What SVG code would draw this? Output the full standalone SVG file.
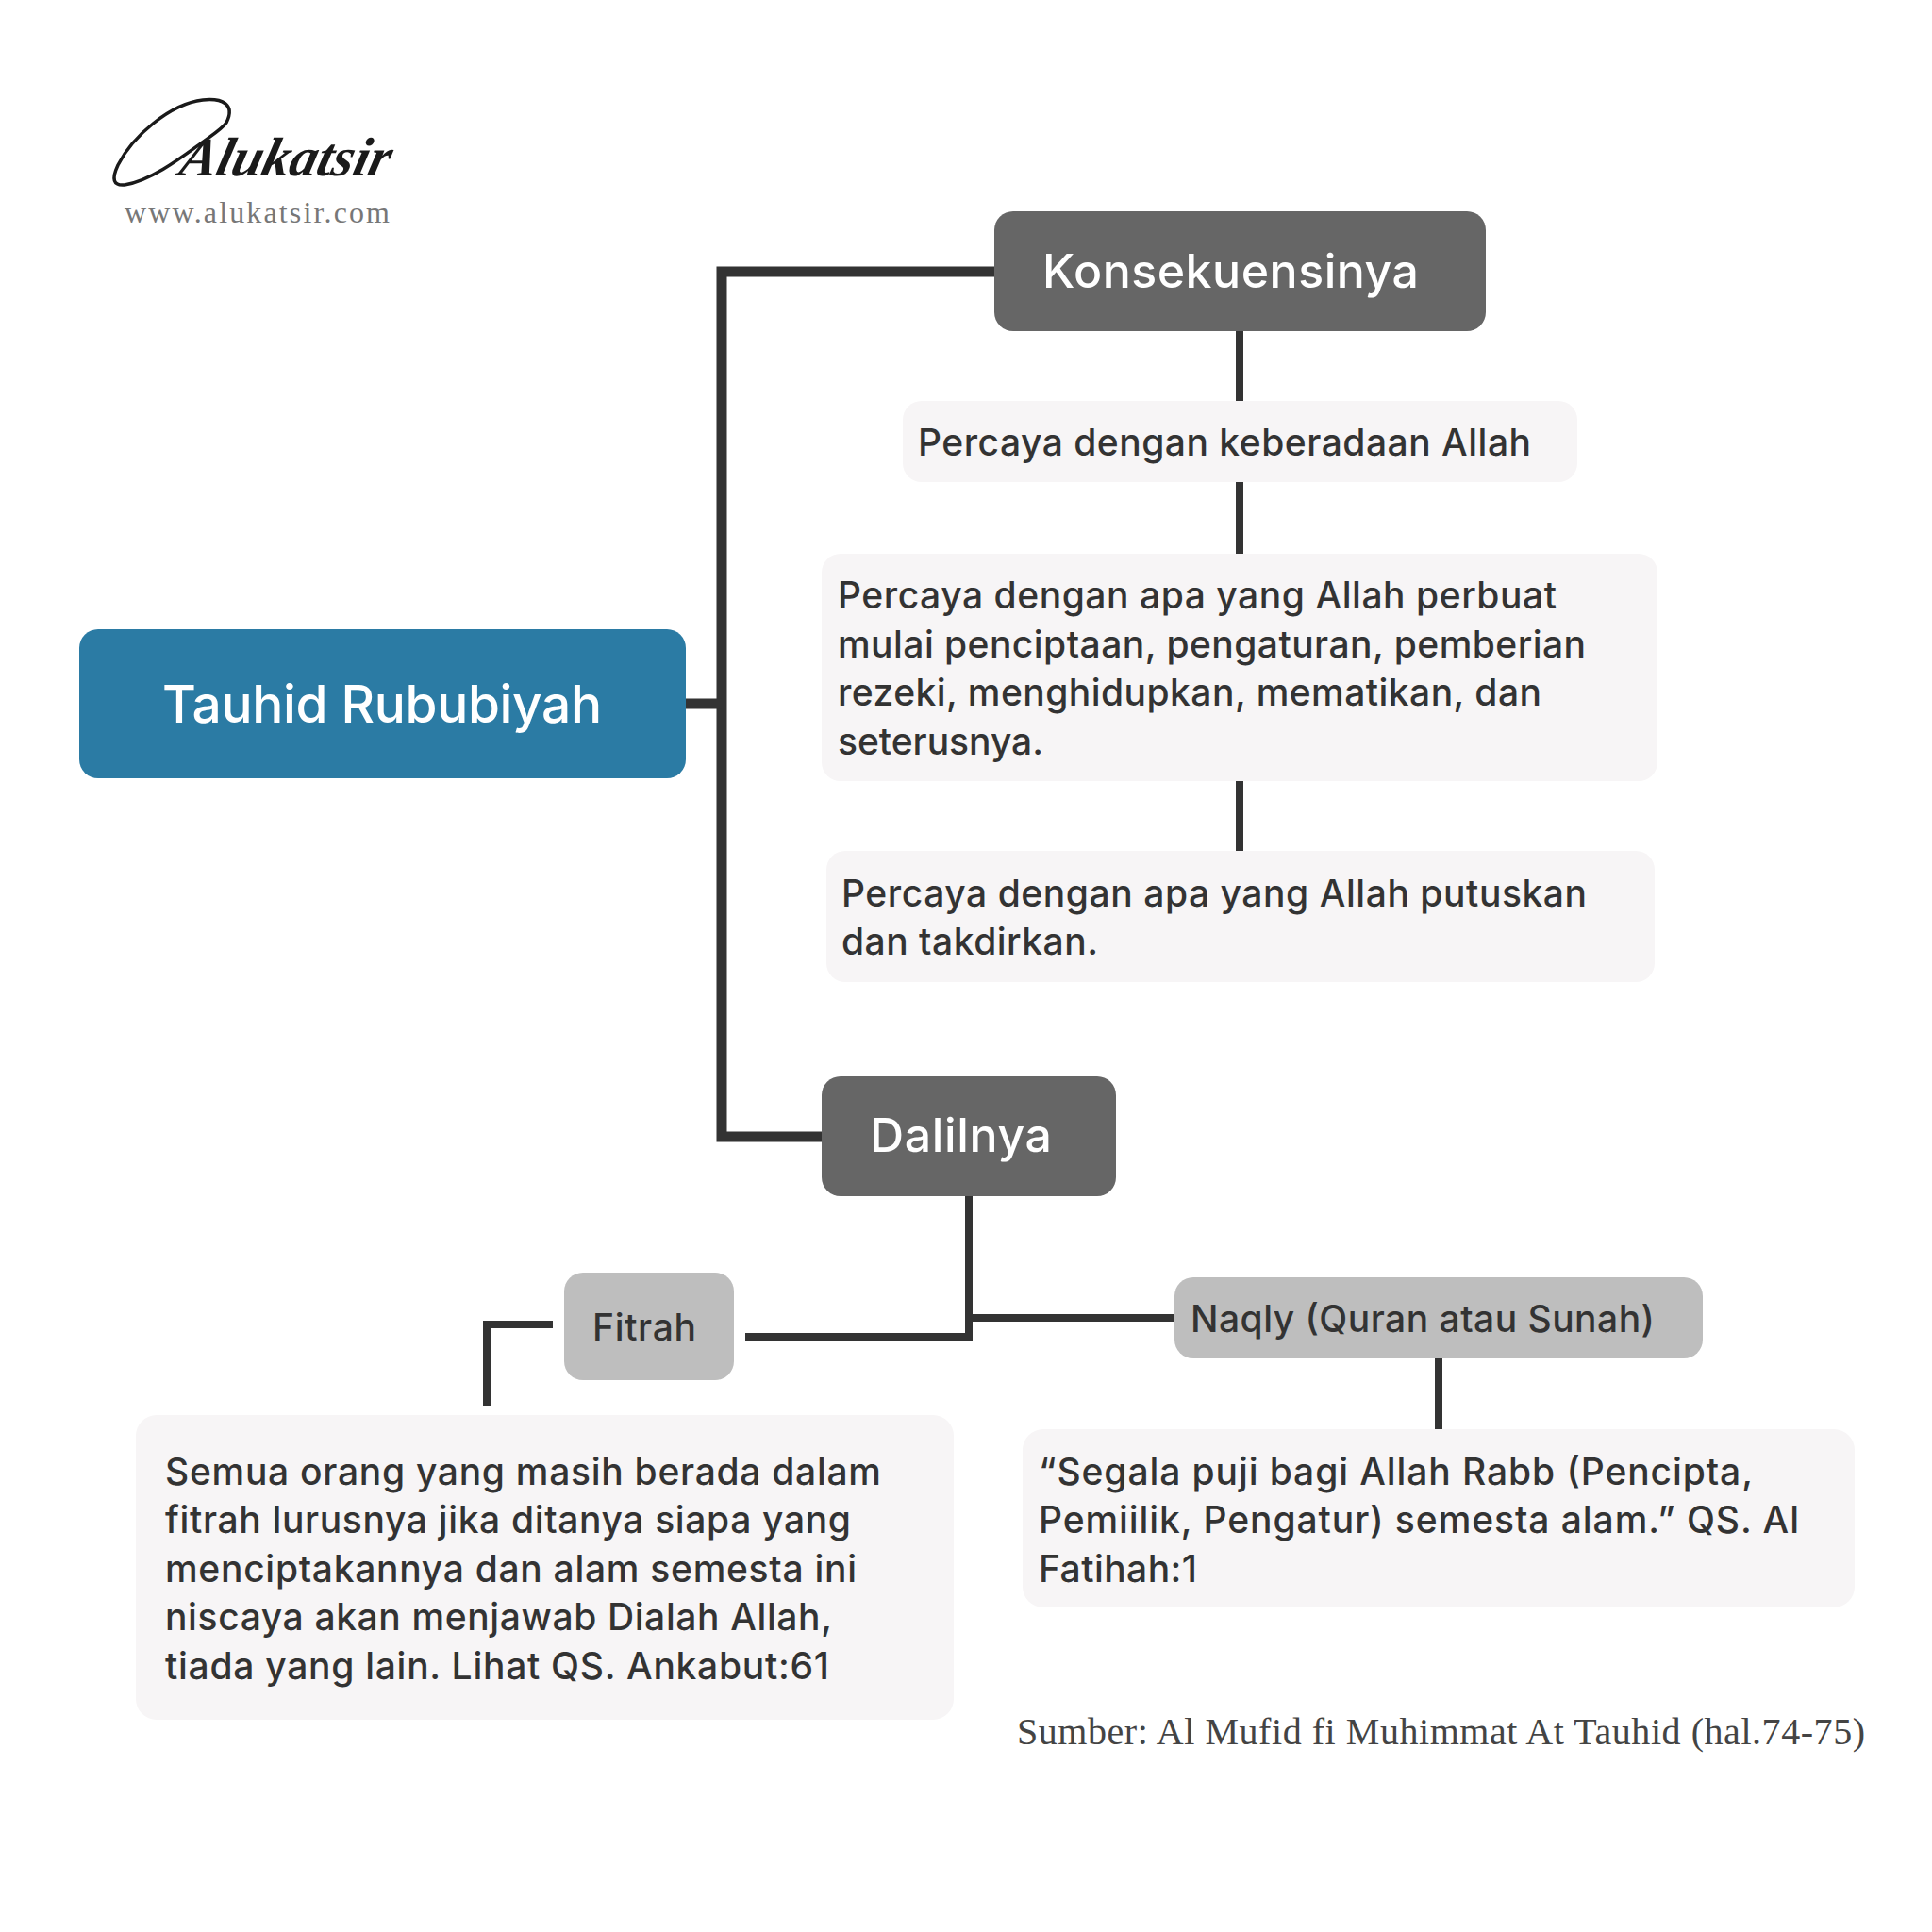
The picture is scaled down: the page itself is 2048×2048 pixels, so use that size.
<svg xmlns="http://www.w3.org/2000/svg" width="2048" height="2048" viewBox="0 0 2048 2048">
<style>
.t{font-family:"Inter","Noto Sans","Liberation Sans",sans-serif;font-weight:530;fill:#333333;font-size:39px}
.w{fill:#ffffff;font-weight:520}
.c{fill:none;stroke:#333333;stroke-width:8}
.c2{fill:none;stroke:#333333;stroke-width:11}
.light{fill:#f7f5f6}
.dark{fill:#666666}
.mid{fill:#bebebe}
</style>
<rect width="2048" height="2048" fill="#ffffff"/>
<g id="connectors">
<path class="c2" d="M1054 288H765V1205H871"/>
<path class="c2" d="M727 746H765"/>
<path class="c" d="M1314 350V426M1314 511V588M1314 827V902"/>
<path class="c" d="M1027 1268V1417H790"/>
<path class="c" d="M1027 1397H1245"/>
<path class="c" d="M586 1404H516V1490"/>
<path class="c" d="M1525 1440V1515"/>
</g>
<g id="logo">
<path d="M240 130C250 110 235 104 215 106C180 110 140 145 125 175C118 190 120 197 132 196C160 192 195 165 213 152C225 143 235 137 240 130Z" fill="none" stroke="#1a1a1a" stroke-width="3.5"/>
<text transform="translate(188 186) skewX(-14)" font-family="Liberation Serif,serif" font-style="italic" fill="#1a1a1a" font-size="58" font-weight="700">Alukatsir</text>
<text x="132" y="236" font-family="Liberation Serif,serif" font-size="32" fill="#777777" textLength="281">www.alukatsir.com</text>
</g>
<g id="n-tauhid"><rect x="84" y="667" width="643" height="158" rx="20" fill="#2b7ba4"/><text class="t w" x="172" y="766" style="font-size:55px" textLength="466">Tauhid Rububiyah</text></g>
<g id="n-konsekuensinya"><rect class="dark" x="1054" y="224" width="521" height="127" rx="20"/><text class="t w" x="1105" y="305" style="font-size:50px" textLength="399">Konsekuensinya</text></g>
<g id="n-k1"><rect class="light" x="957" y="425" width="715" height="86" rx="20"/><text class="t" x="973" y="483" textLength="650">Percaya dengan keberadaan Allah</text></g>
<g id="n-k2"><rect class="light" x="871" y="587" width="886" height="241" rx="20"/>
<text class="t" x="888" y="645" textLength="762">Percaya dengan apa yang Allah perbuat</text>
<text class="t" x="888" y="697" textLength="793">mulai penciptaan, pengaturan, pemberian</text>
<text class="t" x="888" y="748" textLength="746">rezeki, menghidupkan, mematikan, dan</text>
<text class="t" x="888" y="800" textLength="218">seterusnya.</text></g>
<g id="n-k3"><rect class="light" x="876" y="902" width="878" height="139" rx="20"/>
<text class="t" x="892" y="961" textLength="790">Percaya dengan apa yang Allah putuskan</text>
<text class="t" x="892" y="1012" textLength="272">dan takdirkan.</text></g>
<g id="n-dalilnya"><rect class="dark" x="871" y="1141" width="312" height="127" rx="20"/><text class="t w" x="922" y="1221" style="font-size:50px" textLength="193">Dalilnya</text></g>
<g id="n-fitrah"><rect class="mid" x="598" y="1349" width="180" height="114" rx="20"/><text class="t" x="628" y="1421" textLength="110">Fitrah</text></g>
<g id="n-naqly"><rect class="mid" x="1245" y="1354" width="560" height="86" rx="20"/><text class="t" x="1262" y="1412" textLength="492">Naqly (Quran atau Sunah)</text></g>
<g id="n-fitrah-text"><rect class="light" x="144" y="1500" width="867" height="323" rx="22"/>
<text class="t" x="175" y="1574" textLength="759">Semua orang yang masih berada dalam</text>
<text class="t" x="175" y="1625" textLength="727">fitrah lurusnya jika ditanya siapa yang</text>
<text class="t" x="175" y="1677" textLength="733">menciptakannya dan alam semesta ini</text>
<text class="t" x="175" y="1728" textLength="707">niscaya akan menjawab Dialah Allah,</text>
<text class="t" x="175" y="1780" textLength="704">tiada yang lain. Lihat QS. Ankabut:61</text></g>
<g id="n-naqly-text"><rect class="light" x="1084" y="1515" width="882" height="189" rx="22"/>
<text class="t" x="1101" y="1574" textLength="757">“Segala puji bagi Allah Rabb (Pencipta,</text>
<text class="t" x="1101" y="1625" textLength="806">Pemiilik, Pengatur) semesta alam.” QS. Al</text>
<text class="t" x="1101" y="1677" textLength="168">Fatihah:1</text></g>
<g id="source"><text x="1078" y="1849" font-family="Liberation Serif,serif" font-size="40" fill="#444444" textLength="899">Sumber: Al Mufid fi Muhimmat At Tauhid (hal.74-75)</text></g>
</svg>
